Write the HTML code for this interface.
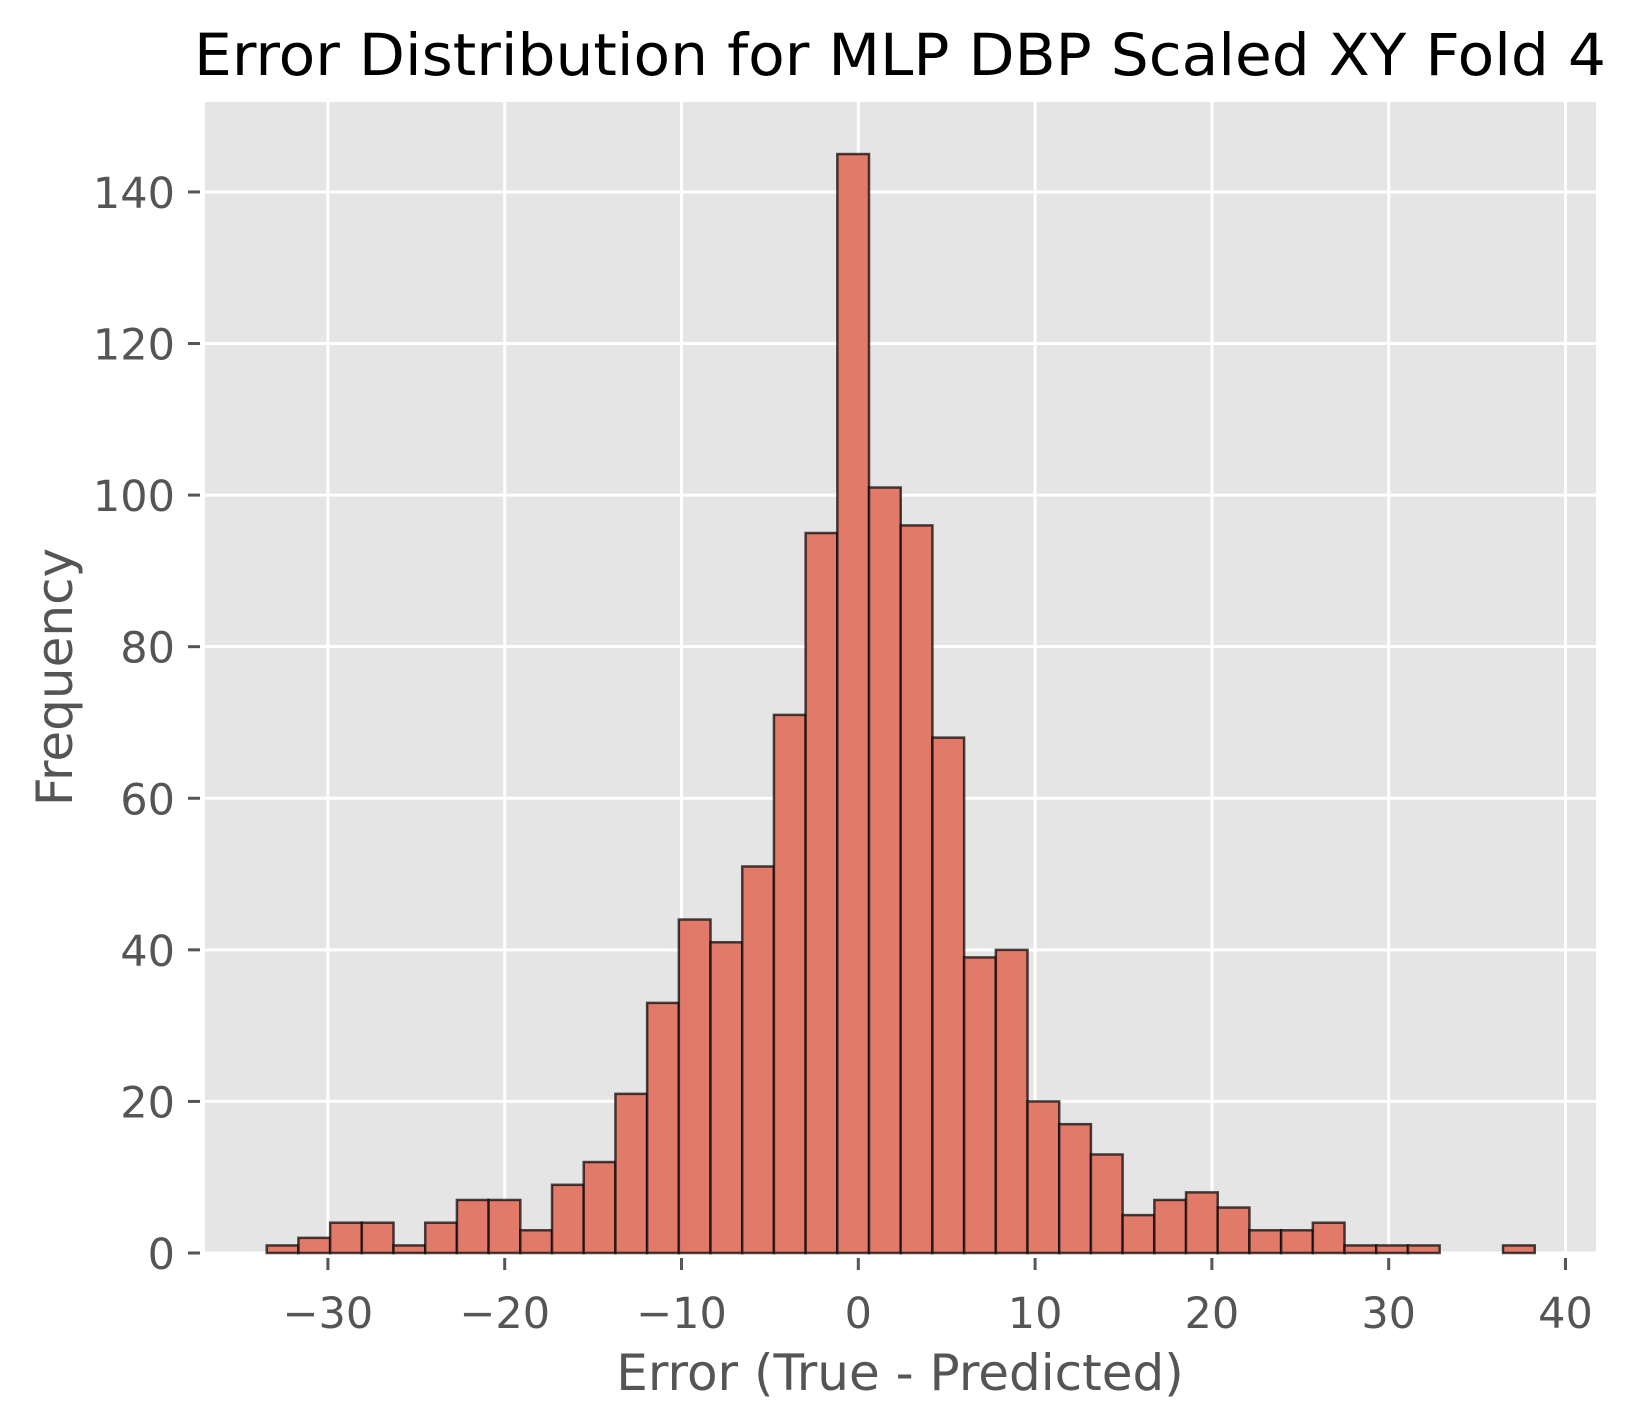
<!DOCTYPE html>
<html><head><meta charset="utf-8"><style>body{margin:0;background:#fff}svg{display:block}</style></head>
<body>
<svg id="chart" width="1638" height="1421" xmlns="http://www.w3.org/2000/svg" font-family="'DejaVu Sans','Liberation Sans',sans-serif">
<rect x="205" y="102" width="1391" height="1151" fill="#e5e5e5"/>
<g id="grid"></g><g id="bars"></g><g id="ticks"></g>
<text x="900" y="75" font-size="58" text-anchor="middle" textLength="1412" lengthAdjust="spacingAndGlyphs" fill="#000">Error Distribution for MLP DBP Scaled XY Fold 4</text>
<text x="900" y="1390" font-size="50" text-anchor="middle" fill="#555">Error (True - Predicted)</text>
<text transform="translate(72,677) rotate(-90)" font-size="50" text-anchor="middle" fill="#555">Frequency</text>
</svg>
<script>
const binStart = -33.46;
const binWidth = 1.793;
const counts = [1,2,4,4,1,4,7,7,3,9,12,21,33,44,41,51,71,95,145,101,96,68,39,40,20,17,13,5,7,8,6,3,3,4,1,1,1,0,0,1];
const xTicks = [-30,-20,-10,0,10,20,30,40];
const yTicks = [0,20,40,60,80,100,120,140];
const NS='http://www.w3.org/2000/svg';
function X(v){return 858.3+17.68*v;}
function Y(v){return 1253-7.579*v;}
function mk(t,a,p){const e=document.createElementNS(NS,t);for(const k in a)e.setAttribute(k,a[k]);p.appendChild(e);return e;}
const grid=document.getElementById('grid'),bars=document.getElementById('bars'),ticks=document.getElementById('ticks');
xTicks.forEach(v=>{
  const l=mk('line',{x1:X(v),x2:X(v),y1:102,y2:1253,stroke:'#fff','stroke-width':3},grid);
  
  
  const t=mk('line',{x1:X(v),x2:X(v),y1:1258,y2:1270,stroke:'#555','stroke-width':3},ticks);
  
  
  const tx=mk('text',{x:X(v),y:1328,'font-size':43,'text-anchor':'middle',fill:'#555'},ticks);
  tx.textContent=(v<0?'\u2212'+(-v):String(v));
  
  
});
yTicks.forEach(v=>{
  const l=mk('line',{x1:205,x2:1596,y1:Y(v),y2:Y(v),stroke:'#fff','stroke-width':3},grid);
  
  
  const t=mk('line',{x1:188,x2:200,y1:Y(v),y2:Y(v),stroke:'#555','stroke-width':3},ticks);
  
  
  const tx=mk('text',{x:175,y:Y(v)+16,'font-size':43,'text-anchor':'end',fill:'#555'},ticks);
  tx.textContent=String(v);
  
  
});
counts.forEach((c,i)=>{
  if(c<=0)return;
  const x0=X(binStart+i*binWidth),x1=X(binStart+(i+1)*binWidth);
  const r=mk('rect',{x:x0,y:Y(c),width:x1-x0,height:Y(0)-Y(c),fill:'#e17a69',stroke:'rgba(0,0,0,0.7)','stroke-width':2.5},bars);
  
  
});
</script>
</body></html>
